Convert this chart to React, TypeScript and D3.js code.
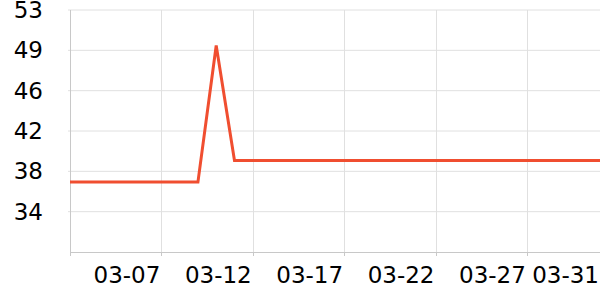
import React from "react";
import * as d3 from "d3";

const dates = [
  "03-02","03-03","03-04","03-05","03-06","03-07","03-08","03-09","03-10","03-11",
  "03-12","03-13","03-14","03-15","03-16","03-17","03-18","03-19","03-20","03-21",
  "03-22","03-23","03-24","03-25","03-26","03-27","03-28","03-29","03-30","03-31",
];
const values = [
  37, 37, 37, 37, 37, 37, 37, 37, 49.7, 39,
  39, 39, 39, 39, 39, 39, 39, 39, 39, 39,
  39, 39, 39, 39, 39, 39, 39, 39, 39, 39,
];
const xTickDates = ["03-02", "03-07", "03-12", "03-17", "03-22", "03-27", "03-31"];
const xTickLabels = ["", "03-07", "03-12", "03-17", "03-22", "03-27", "03-31"];
const yTickValues = [34.25, 38, 41.75, 45.5, 49.25, 53];
const yTickLabels = ["34", "38", "42", "46", "49", "53"];
const yDomain = [30.5, 53];

const W = 600;
const H = 300;
const left = 70;
const right = 600;
const top = 10;
const bottom = 252;

const parse = (s: string) => d3.timeParse("%Y-%m-%d")("2024-" + s) as Date;

export default function App() {
  const x = d3.scaleTime().domain([parse(dates[0]), parse(dates[dates.length - 1])]).range([left, right]);
  const y = d3.scaleLinear().domain(yDomain).range([bottom, top]);
  const data = dates.map((d, i) => ({ date: parse(d), v: values[i] }));
  const line = d3.line<{ date: Date; v: number }>().x((d) => x(d.date)).y((d) => y(d.v));
  const font = "'DejaVu Sans', sans-serif";
  return (
    <svg width={W} height={H} style={{ position: "absolute", left: 0, top: 0, background: "#fff" }}>
      {yTickValues.map((t, i) => (
        <g key={"y" + i}>
          <line x1={left - 2} x2={right} y1={y(t)} y2={y(t)} stroke="#e0e0e0" strokeWidth={1} />
          <text x={43} y={y(t)} textAnchor="end" dominantBaseline="central" fontFamily={font} fontSize={23} fill="#000">
            {yTickLabels[i]}
          </text>
        </g>
      ))}
      {xTickDates.map((d, i) => {
        const xv = Math.round(x(parse(d))) + 0.5;
        return (
          <g key={"x" + i}>
            {i > 0 && <line x1={xv} x2={xv} y1={top} y2={bottom} stroke="#e0e0e0" strokeWidth={1} />}
            <line x1={xv} x2={xv} y1={bottom} y2={bottom + 4} stroke="#c8c8c8" strokeWidth={1} />
            <text x={x(parse(d)) - 1} y={283} textAnchor="end" fontFamily={font} fontSize={23} fill="#000">
              {xTickLabels[i]}
            </text>
          </g>
        );
      })}
      <line x1={left + 0.5} x2={left + 0.5} y1={top} y2={bottom + 4} stroke="#c8c8c8" strokeWidth={1} />
      <line x1={left} x2={right} y1={bottom + 0.5} y2={bottom + 0.5} stroke="#c8c8c8" strokeWidth={1} />
      <path d={line(data) || ""} fill="none" stroke="#f04e30" strokeWidth={3} strokeLinejoin="miter" />
    </svg>
  );
}
